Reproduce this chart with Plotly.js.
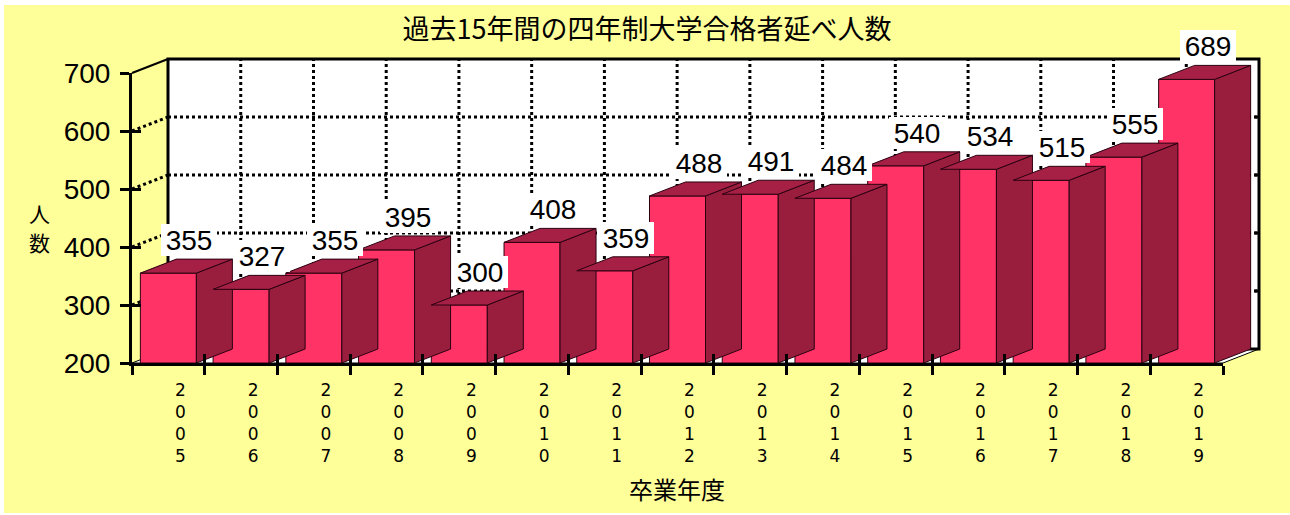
<!DOCTYPE html>
<html>
<head>
<meta charset="utf-8">
<script src="https://cdn.plot.ly/plotly-3.0.1.min.js"></script>
<style>
  html, body { margin: 0; padding: 0; background: #fff; }
  #myDiv { width: 1290px; height: 515px; }
</style>
</head>
<body>
<div id="myDiv"></div>
<script>
// ------------------------- DATA -------------------------
var years = ['2005', '2006', '2007', '2008', '2009', '2010', '2011', '2012',
             '2013', '2014', '2015', '2016', '2017', '2018', '2019'];
var counts = [355, 327, 355, 395, 300, 408, 359, 488, 491, 484, 540, 534, 515, 555, 689];
var yTicks = [200, 300, 400, 500, 600, 700];
var chartTitle = '過去15年間の四年制大学合格者延べ人数';
var xTitle = '卒業年度';
var yTitleChars = ['人', '数'];

// ------------------------- LOOK -------------------------
var W = 1290, H = 515;
var yellow = '#FFFF99';
var front = '#FF3366', side = '#991E3E', top_ = '#A52044', edge = '#2a0010';
var numFont = 'Arial, "Liberation Sans", sans-serif';
var tickFont = '"DejaVu Sans", Arial, sans-serif';
var jpFont = '"Noto Sans CJK JP", "Noto Sans CJK SC", sans-serif';

var YMIN = 200, YMAX = 700;
var BW = 0.77;      // bar front width (category units)
var DX = 0.495;     // depth offset in x units
var DY = 24.1;      // depth offset in y units

// pixel frame of the front plane
var px0 = 132, px1 = 1223, pyBot = 363, pyTop = 73;
var ux = (px1 - px0) / years.length;         // px per category
var uy = (pyBot - pyTop) / (YMAX - YMIN);    // px per unit

var xr = [-0.55, years.length - 0.5 + DX + 0.06];
var yr = [195, YMAX + DY + 6];
function fx(px) { return px / W; }
function fy(py) { return (H - py) / H; }
var mainX = [fx(px0 + (xr[0] + 0.5) * ux), fx(px0 + (xr[1] + 0.5) * ux)];
var mainY = [fy(pyBot + (YMIN - yr[0]) * uy), fy(pyBot - (yr[1] - YMIN) * uy)];

var idx = years.map(function (d, i) { return i; });
var bounds = [];
for (var b = 0; b <= years.length; b++) bounds.push(b - 0.5);

// ------------------------- 3D FACES -------------------------
var sx = [], sy = [], tx = [], ty = [];
counts.forEach(function (v, i) {
  var l = i - BW / 2, r = i + BW / 2;
  sx.push(r, r + DX, r + DX, r, r, null);
  sy.push(YMIN, YMIN + DY, v + DY, v, YMIN, null);
  tx.push(l, r, r + DX, l + DX, l, null);
  ty.push(v, v, v + DY, v + DY, v, null);
});

var sides = {
  x: sx, y: sy, type: 'scatter', mode: 'lines', fill: 'toself',
  fillcolor: side, line: {color: edge, width: 1}, hoverinfo: 'skip', showlegend: false
};
var tops = {
  x: tx, y: ty, type: 'scatter', mode: 'lines', fill: 'toself',
  fillcolor: top_, line: {color: edge, width: 1}, hoverinfo: 'skip', showlegend: false
};
var fronts = {
  x: idx,
  y: counts.map(function (v) { return v - YMIN; }),
  base: YMIN,
  width: BW,
  type: 'bar',
  marker: {color: front, line: {color: edge, width: 1}},
  customdata: years,
  hovertemplate: '%{customdata}: %{y}<extra></extra>',
  showlegend: false
};
// invisible holders so the front-plane axes get drawn
function holder(xa, ya) {
  return {x: [0], y: [YMIN], xaxis: xa, yaxis: ya, type: 'scatter', mode: 'markers',
          marker: {opacity: 0, size: 1}, hoverinfo: 'skip', showlegend: false};
}

// ------------------------- WALLS / GRID -------------------------
var xl = -0.5, xe = years.length - 0.5;
var shapes = [];
// background
shapes.push({type: 'rect', xref: 'paper', yref: 'paper', layer: 'below',
  x0: fx(4), x1: 1, y0: fy(513), y1: fy(5), fillcolor: yellow, line: {width: 0}});
// floor
shapes.push({type: 'path', xref: 'x', yref: 'y', layer: 'below',
  path: 'M' + xl + ',' + YMIN + ' L' + xe + ',' + YMIN + ' L' + (xe + DX) + ',' + (YMIN + DY) +
        ' L' + (xl + DX) + ',' + (YMIN + DY) + ' Z',
  fillcolor: '#ffffff', line: {color: '#000', width: 1}});
// back wall
shapes.push({type: 'rect', xref: 'x', yref: 'y', layer: 'below',
  x0: xl + DX, x1: xe + DX, y0: YMIN + DY, y1: YMAX + DY,
  fillcolor: '#ffffff', line: {color: '#000', width: 3}});
yTicks.forEach(function (v) {
  if (v === YMIN) return;
  var solid = (v === YMAX);
  // left wall diagonal
  shapes.push({type: 'line', xref: 'x', yref: 'y', layer: 'below',
    x0: xl, y0: v, x1: xl + DX, y1: v + DY,
    line: {color: '#000', width: solid ? 2 : 3, dash: solid ? 'solid' : 'dot'}});
  if (solid) return;
  // back wall horizontal grid
  shapes.push({type: 'line', xref: 'x', yref: 'y', layer: 'below',
    x0: xl + DX, y0: v + DY, x1: xe + DX, y1: v + DY,
    line: {color: '#000', width: 3, dash: 'dot'}});
  // small tick on the right edge
  shapes.push({type: 'line', xref: 'x', yref: 'y', layer: 'below',
    x0: xe + DX - 0.06, y0: v + DY, x1: xe + DX, y1: v + DY,
    line: {color: '#000', width: 3}});
});
bounds.slice(1, -1).forEach(function (b) {
  shapes.push({type: 'line', xref: 'x', yref: 'y', layer: 'below',
    x0: b + DX, y0: YMIN + DY, x1: b + DX, y1: YMAX + DY,
    line: {color: '#000', width: 3, dash: 'dot'}});
});

// ------------------------- LABELS -------------------------
var annotations = counts.map(function (v, i) {
  return {
    x: i + 0.29, y: v + DY, xref: 'x', yref: 'y',
    text: String(v), showarrow: false, xanchor: 'center', yanchor: 'bottom', yshift: 3,
    bgcolor: '#ffffff', width: 56, height: 32, borderpad: 0, borderwidth: 0,
    font: {family: numFont, size: 28, color: '#000'}
  };
});
annotations.push({
  xref: 'paper', yref: 'paper', x: fx(677), y: fy(488), xanchor: 'center', yanchor: 'middle',
  text: xTitle, showarrow: false, font: {family: jpFont, size: 24, color: '#000'}
});
yTitleChars.forEach(function (c, i) {
  annotations.push({
    xref: 'paper', yref: 'paper', x: fx(39), y: fy(213 + i * 28), xanchor: 'center', yanchor: 'middle',
    text: c, showarrow: false, height: 27, borderpad: 0, borderwidth: 0,
    font: {family: jpFont, size: 21, color: '#000'}
  });
});

var frontX = [fx(px0), fx(px1)];
var frontY = [fy(pyBot), fy(pyTop)];

var layout = {
  width: W, height: H,
  margin: {l: 0, r: 0, t: 0, b: 0},
  paper_bgcolor: '#ffffff',
  plot_bgcolor: 'rgba(0,0,0,0)',
  showlegend: false,
  title: {
    text: chartTitle, x: fx(647), xanchor: 'center', xref: 'paper',
    y: fy(30), yanchor: 'middle', yref: 'paper',
    font: {family: jpFont, size: 27, color: '#000'}
  },
  xaxis: {
    domain: mainX, range: xr, anchor: 'y', type: 'linear',
    tickvals: idx, ticktext: years.map(function (y) { return y.split('').join('<br>'); }),
    ticks: '', showline: false, showgrid: false, zeroline: false,
    ticklabelshift: 12, ticklabelstandoff: 12,
    tickfont: {family: tickFont, size: 17, color: '#000'}, fixedrange: true
  },
  yaxis: {
    domain: mainY, range: yr, anchor: 'x',
    showticklabels: false, ticks: '', showline: false, showgrid: false, zeroline: false, fixedrange: true
  },
  xaxis2: {
    domain: frontX, range: [xl, xe], anchor: 'y2',
    tickvals: bounds, ticks: 'outside', ticklen: 9, tickwidth: 3, tickcolor: '#000',
    showticklabels: false, showline: true, linewidth: 3, linecolor: '#000',
    showgrid: false, zeroline: false, fixedrange: true
  },
  xaxis3: {
    domain: frontX, range: [xl, xe], anchor: 'y2',
    tickvals: bounds, ticks: 'inside', ticklen: 9, tickwidth: 3, tickcolor: '#000',
    showticklabels: false, showline: false, showgrid: false, zeroline: false, fixedrange: true
  },
  yaxis2: {
    domain: frontY, range: [YMIN, YMAX], anchor: 'x2',
    tickvals: yTicks, ticks: 'outside', ticklen: 9, tickwidth: 3, tickcolor: '#000',
    showline: true, linewidth: 3, linecolor: '#000', showgrid: false, zeroline: false,
    ticklabelstandoff: 4,
    tickfont: {family: numFont, size: 28, color: '#000'}, fixedrange: true
  },
  yaxis3: {
    domain: frontY, range: [YMIN, YMAX], anchor: 'x2',
    tickvals: yTicks, ticks: 'inside', ticklen: 9, tickwidth: 3, tickcolor: '#000',
    showticklabels: false, showline: false, showgrid: false, zeroline: false, fixedrange: true
  },
  shapes: shapes,
  annotations: annotations
};

var data = [sides, tops, fronts, holder('x2', 'y2'), holder('x3', 'y2'), holder('x2', 'y3')];
Plotly.newPlot('myDiv', data, layout, {displayModeBar: false, staticPlot: true});
</script>
</body>
</html>
